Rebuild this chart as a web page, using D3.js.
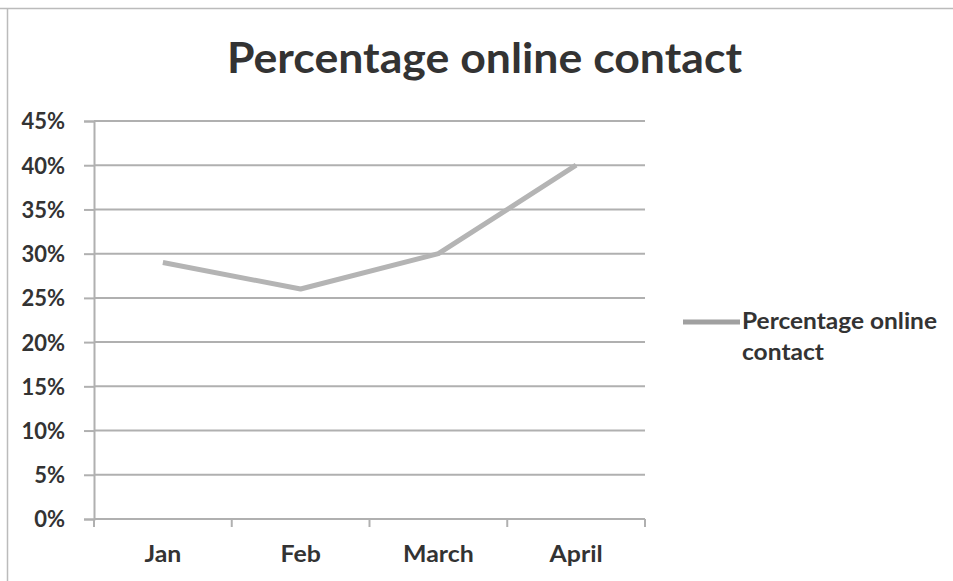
<!DOCTYPE html>
<html><head><meta charset="utf-8">
<script src="https://cdn.jsdelivr.net/npm/d3@7"></script>
<style>body{margin:0;background:#fff;}svg{display:block;}text{font-family:Lato,"Open Sans",sans-serif;fill:#333;}</style>
</head><body>
<svg id="c" width="953" height="581"></svg>
<script>
const categories = ["Jan", "Feb", "March", "April"];
const values = [0.29, 0.26, 0.30, 0.40];
const yTicks = [0, 0.05, 0.10, 0.15, 0.20, 0.25, 0.30, 0.35, 0.40, 0.45];
const seriesName = "Percentage online contact";
const title = "Percentage online contact";

const svg = d3.select("#c");
const pLeft = 94, pRight = 645, pTop = 121, pBottom = 519;

// frame
svg.append("line").attr("x1",0).attr("x2",953).attr("y1",8.5).attr("y2",8.5).attr("stroke","#bbb").attr("stroke-width",1.5);
svg.append("line").attr("x1",7.5).attr("x2",7.5).attr("y1",8).attr("y2",581).attr("stroke","#bbb").attr("stroke-width",1.5);

const x = d3.scaleBand().domain(categories).range([pLeft, pRight]).padding(0);
const y = d3.scaleLinear().domain([0, 0.45]).range([pBottom, pTop]);

function stretch(sel, factor) {
  sel.each(function() {
    const w = this.getComputedTextLength();
    d3.select(this).attr("textLength", w * factor).attr("lengthAdjust", "spacingAndGlyphs");
  });
}

// title
const tt = svg.append("text").attr("x", 227).attr("y", 73)
  .style("font-size","42px").style("font-weight","bold").text(title);
tt.attr("textLength", 515).attr("lengthAdjust","spacingAndGlyphs");

// gridlines
svg.append("g").selectAll("line").data(yTicks.slice(1)).join("line")
  .attr("x1", pLeft).attr("x2", pRight).attr("y1", d=>y(d)).attr("y2", d=>y(d))
  .attr("stroke","#b0b0b0").attr("stroke-width",2);

// y axis
const yAxis = d3.axisLeft(y).tickValues(yTicks).tickFormat(d3.format(".0%")).tickSize(10).tickPadding(19);
const gy = svg.append("g").attr("transform",`translate(${pLeft},0)`).call(yAxis);
gy.attr("font-family", null).attr("font-size", null);
gy.select(".domain").attr("stroke","#b0b0b0").attr("stroke-width",2);
gy.selectAll(".tick line").attr("stroke","#b0b0b0").attr("stroke-width",2);
gy.selectAll(".tick text").style("font-size","22px").style("font-weight","bold").attr("fill","#333").attr("dy","0.36em");

// x axis
const xAxis = d3.axisBottom(x).tickSize(0).tickPadding(27);
const gx = svg.append("g").attr("transform",`translate(0,${pBottom})`).call(xAxis);
gx.attr("font-family", null).attr("font-size", null);
gx.select(".domain").attr("stroke","#b0b0b0").attr("stroke-width",2).attr("d",`M${pLeft},0H${pRight}`);
const xt = gx.selectAll(".tick text").style("font-size","23px").style("font-weight","bold").attr("fill","#333");
stretch(xt, 1.08);
// category boundary ticks
const bounds = categories.map(c=>x(c)).concat([pRight]);
svg.append("g").selectAll("line").data(bounds).join("line")
  .attr("x1",d=>d).attr("x2",d=>d).attr("y1",pBottom).attr("y2",pBottom+8)
  .attr("stroke","#b0b0b0").attr("stroke-width",2);

// line
const line = d3.line().x((d,i)=>x(categories[i])+x.bandwidth()/2).y(d=>y(d));
svg.append("path").datum(values).attr("d", line).attr("fill","none")
  .attr("stroke","#b4b4b4").attr("stroke-width",5).attr("stroke-linejoin","round");

// legend
svg.append("line").attr("x1",683).attr("x2",740).attr("y1",322).attr("y2",322)
  .attr("stroke","#a0a0a0").attr("stroke-width",5);
const words = seriesName.split(" ");
const l1 = svg.append("text").attr("x",742).attr("y",329).style("font-size","23px").style("font-weight","bold")
  .text(words.slice(0,2).join(" "));
l1.attr("textLength",195).attr("lengthAdjust","spacingAndGlyphs");
const l2 = svg.append("text").attr("x",742).attr("y",360).style("font-size","23px").style("font-weight","bold")
  .text(words.slice(2).join(" "));
l2.attr("textLength",82).attr("lengthAdjust","spacingAndGlyphs");
</script>
</body></html>
